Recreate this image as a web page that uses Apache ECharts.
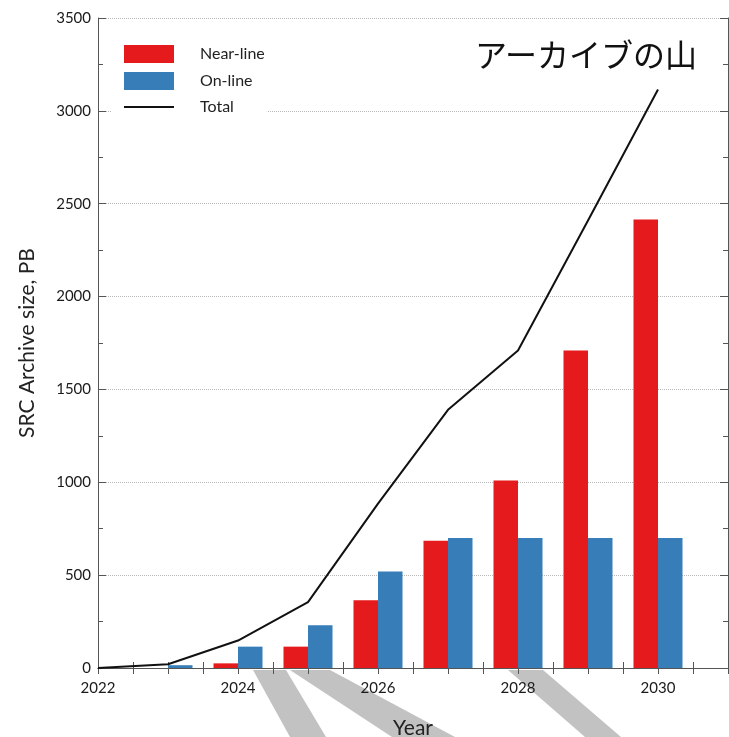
<!DOCTYPE html>
<html>
<head>
<meta charset="utf-8">
<script src="https://cdn.jsdelivr.net/npm/echarts@6/dist/echarts.min.js"></script>
<style>
  html, body { margin: 0; padding: 0; background: #fff; }
  #main { width: 729px; height: 737px; }
</style>
</head>
<body>
<div id="main"></div>
<script>
// archive size by year, PB
var barYears = [2023, 2024, 2025, 2026, 2027, 2028, 2029, 2030];
var nearLine = [0, 25, 115, 365, 685, 1010, 1710, 2415];
var onLine = [15, 115, 230, 520, 700, 700, 700, 700];
var totalYears = [2022, 2023, 2024, 2025, 2026, 2027, 2028, 2029, 2030];
var total = [0, 20, 148, 355, 885, 1390, 1710, 2410, 3115];
var xTickLabels = [2022, 2024, 2026, 2028, 2030];

var font = 'Lato, "DejaVu Sans", sans-serif';
var axisColor = '#555';
var bandColor = '#c2c2c2';

function pairs(xs, ys) {
  return xs.map(function (x, i) { return [x, ys[i]]; });
}

var chart = echarts.init(document.getElementById('main'));

var option = {
  backgroundColor: '#fff',
  textStyle: { fontFamily: font },
  animation: false,
  title: {
    text: 'アーカイブの山',
    left: 470,
    top: 34,
    textStyle: {
      fontFamily: '"Noto Sans CJK JP", sans-serif',
      fontSize: 32,
      fontWeight: 'normal',
      color: '#111'
    }
  },
  legend: {
    orient: 'vertical',
    left: 112,
    top: 36,
    padding: [9, 2, 9, 11],
    backgroundColor: '#fff',
    itemWidth: 50,
    itemHeight: 18,
    itemGap: 9,
    textStyle: { fontSize: 16, color: '#222', fontFamily: font, padding: [0, 0, 0, 21] },
    data: [
      { name: 'Near-line', icon: 'rect' },
      { name: 'On-line', icon: 'rect' },
      { name: 'Total', itemStyle: { opacity: 0 } }
    ]
  },
  grid: { left: 98, right: 1, top: 18, bottom: 69, outerBoundsMode: 'none' },
  graphic: [
    { type: 'polygon', z: -10, shape: { points: [[253, 670], [286, 670], [326, 737], [290, 737]] }, style: { fill: bandColor } },
    { type: 'polygon', z: -10, shape: { points: [[290, 670], [330, 670], [455, 737], [392, 737]] }, style: { fill: bandColor } },
    { type: 'polygon', z: -10, shape: { points: [[508, 670], [543, 670], [621, 737], [585, 737]] }, style: { fill: bandColor } }
  ],
  xAxis: [
    {
      type: 'value',
      position: 'bottom',
      min: 2022,
      max: 2031,
      interval: 0.5,
      axisLine: { show: true, lineStyle: { color: axisColor } },
      axisTick: { show: true, inside: true, length: 6, lineStyle: { color: axisColor } },
      axisLabel: {
        fontSize: 15,
        color: '#1a1a1a',
        margin: 13,
        showMaxLabel: false,
        formatter: function (v) {
          return xTickLabels.indexOf(v) >= 0 ? String(v) : '';
        }
      },
      splitLine: { show: false },
      name: 'Year',
      nameLocation: 'middle',
      nameGap: 50,
      nameTextStyle: { fontSize: 21, color: '#222' }
    },
    {
      type: 'value',
      position: 'top',
      min: 2022,
      max: 2031,
      interval: 0.5,
      axisLine: { show: true, lineStyle: { color: axisColor } },
      axisTick: { show: true, inside: true, length: 6, lineStyle: { color: axisColor } },
      axisLabel: { show: false },
      splitLine: { show: false }
    }
  ],
  yAxis: [
    {
      type: 'value',
      position: 'left',
      min: 0,
      max: 3500,
      interval: 500,
      axisLine: { show: true, lineStyle: { color: axisColor } },
      axisTick: { show: true, inside: true, length: 8, lineStyle: { color: axisColor } },
      minorTick: { show: true, splitNumber: 2, length: 5, lineStyle: { color: axisColor } },
      axisLabel: {
        fontSize: 15,
        color: '#1a1a1a',
        margin: 7,
        formatter: function (v) { return String(v); }
      },
      splitLine: { show: true, lineStyle: { color: '#b8b8b8', type: 'dotted', width: 1 } },
      name: 'SRC Archive size, PB',
      nameLocation: 'middle',
      nameGap: 60,
      nameTextStyle: { fontSize: 21, color: '#222' }
    },
    {
      type: 'value',
      position: 'right',
      min: 0,
      max: 3500,
      interval: 500,
      axisLine: { show: true, lineStyle: { color: axisColor } },
      axisTick: { show: true, inside: true, length: 8, lineStyle: { color: axisColor } },
      minorTick: { show: true, splitNumber: 2, length: 5, lineStyle: { color: axisColor } },
      axisLabel: { show: false },
      splitLine: { show: false }
    }
  ],
  series: [
    {
      name: 'Near-line',
      type: 'bar',
      barWidth: 24.5,
      barGap: '0%',
      itemStyle: { color: '#e41a1c' },
      data: pairs(barYears, nearLine)
    },
    {
      name: 'On-line',
      type: 'bar',
      barWidth: 24.5,
      barGap: '0%',
      itemStyle: { color: '#377eb8' },
      data: pairs(barYears, onLine)
    },
    {
      name: 'Total',
      type: 'line',
      symbol: 'none',
      z: 5,
      lineStyle: { color: '#111', width: 2 },
      itemStyle: { color: '#111' },
      data: pairs(totalYears, total)
    }
  ]
};

chart.setOption(option);
</script>
</body>
</html>
